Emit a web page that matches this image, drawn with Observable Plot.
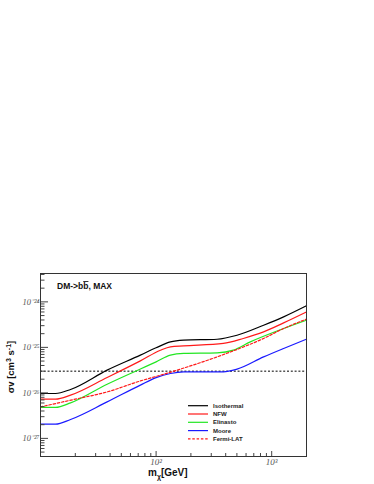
<!DOCTYPE html>
<html><head><meta charset="utf-8">
<script src="https://cdn.jsdelivr.net/npm/d3@7"></script>
<script src="https://cdn.jsdelivr.net/npm/@observablehq/plot@0.6"></script>
<style>html,body{margin:0;padding:0;background:#fff} svg{display:block}</style>
</head><body><div id="chart"></div>
<script>
// Data (mass in GeV, <sigma v> in cm^3 s^-1)
const isoMass   = [10, 13.5, 18.2, 37.7, 73.1, 100, 133, 173, 337, 501, 851, 1268, 2000];
const isoSigma  = [9.7e-27, 9.7e-27, 1.19e-26, 3.16e-26, 6.75e-26, 9.8e-26, 1.32e-25, 1.44e-25, 1.51e-25, 1.85e-25, 3.07e-25, 4.68e-25, 8.2e-25];
const nfwMass   = [10, 13.5, 18.2, 37.7, 73.1, 109, 133, 173, 382, 568, 851, 1268, 2000];
const nfwSigma  = [7.27e-27, 7.27e-27, 8.9e-27, 2.18e-26, 5.05e-26, 8.67e-26, 1.03e-25, 1.08e-25, 1.22e-25, 1.57e-25, 2.19e-25, 3.45e-25, 6.0e-25];
const einMass   = [10, 13.5, 18.2, 37.7, 73.1, 100, 133, 173, 337, 466, 653, 1268, 2000];
const einSigma  = [4.78e-27, 4.78e-27, 6.03e-27, 1.55e-26, 3.35e-26, 4.8e-26, 6.74e-26, 7.35e-26, 7.57e-26, 8.67e-26, 1.32e-25, 2.6e-25, 3.96e-25];
const mooreMass = [10, 13.5, 18.2, 37.7, 73.1, 100, 133, 173, 382, 501, 851, 1268, 2000];
const mooreSigma= [2.05e-27, 2.05e-27, 2.6e-27, 6.34e-27, 1.48e-26, 2.16e-26, 2.67e-26, 2.9e-26, 2.9e-26, 3.32e-26, 6.18e-26, 9.46e-26, 1.51e-25];
const fermiMass = [10, 19.4, 37.7, 73.1, 109, 152, 337, 501, 851, 1268, 2000];
const fermiSigma= [4.92e-27, 7.16e-27, 1.05e-26, 1.83e-26, 2.45e-26, 3.16e-26, 6.18e-26, 9.0e-26, 1.57e-25, 2.6e-25, 4.17e-25];
const thermalRelic = [3e-26];

const seriesNames  = ["Isothermal", "NFW", "Elinasto", "Moore", "Fermi-LAT"];
const seriesColors = ["#000000", "#ff1a1a", "#22e622", "#1a1aff", "#ff1a1a"];
const seriesDash   = [null, null, null, null, "2.5,1.8"];
const seriesMass   = [isoMass, nfwMass, einMass, mooreMass, fermiMass];
const seriesSigma  = [isoSigma, nfwSigma, einSigma, mooreSigma, fermiSigma];

const xMajorTicks = [100, 1000];
const yMajorTicks = [1e-27, 1e-26, 1e-25, 1e-24];
const xDomain = [10, 2000];
const yDomain = [4.0e-28, 4.2e-24];

const sup = {"-":"\u207B","0":"\u2070","1":"\u00B9","2":"\u00B2","3":"\u00B3","4":"\u2074","5":"\u2075","6":"\u2076","7":"\u2077","8":"\u2078","9":"\u2079"};
const fmtPow = d => "10" + String(Math.round(Math.log10(d))).split("").map(c => sup[c]).join("");

function minorTicks(lo, hi, majors) {
  const out = [];
  for (let n = Math.floor(Math.log10(lo)); n <= Math.ceil(Math.log10(hi)); n++)
    for (let k = 1; k <= 9; k++) {
      const v = k * Math.pow(10, n);
      if (v > lo * 1.0001 && v < hi * 0.9999 && !majors.some(m => Math.abs(m / v - 1) < 1e-6)) out.push(v);
    }
  return out;
}
const xMinor = minorTicks(xDomain[0], xDomain[1], xMajorTicks);
const yMinor = minorTicks(yDomain[0], yDomain[1], yMajorTicks);

const lineMarks = seriesNames.map((name, i) =>
  Plot.line(seriesMass[i].map((m, j) => ({m, v: seriesSigma[i][j]})), {
    x: "m", y: "v", stroke: seriesColors[i], strokeWidth: 1.2,
    strokeDasharray: seriesDash[i], curve: "monotone-x"
  }));

const axisColor = "#444";
const plot = Plot.plot({
  width: 374, height: 484,
  marginTop: 273, marginRight: 68, marginBottom: 28, marginLeft: 40,
  style: {fontFamily: "Liberation Sans, Arial, sans-serif", background: "white", overflow: "visible"},
  x: {type: "log", domain: xDomain},
  y: {type: "log", domain: yDomain},
  marks: [
    Plot.ruleY(thermalRelic, {stroke: "black", strokeWidth: 1, strokeDasharray: "2,1.8"}),
    ...lineMarks,
    Plot.axisY(yMinor, {tickSize: -4.5, tickFormat: () => "", label: null, stroke: axisColor}),
    Plot.axisY(yMajorTicks, {tickSize: -8, tickPadding: 9, tickFormat: fmtPow, label: null,
      stroke: axisColor, fill: "#555", fontFamily: "Liberation Serif, serif", fontStyle: "italic", fontSize: 8.5}),
    Plot.axisX(xMinor, {tickSize: -3, tickFormat: () => "", label: null, stroke: axisColor}),
    Plot.axisX(xMajorTicks, {tickSize: -5, tickPadding: 7.5, tickFormat: fmtPow, label: null,
      stroke: axisColor, fill: "#555", fontFamily: "Liberation Serif, serif", fontStyle: "italic", fontSize: 9}),
    Plot.frame({stroke: "#333", strokeWidth: 1})
  ]
});
document.getElementById("chart").appendChild(plot);

const svg = d3.select(plot);
const sans = "Liberation Sans, Arial, sans-serif";
// Title inside the frame
const t = svg.append("text").attr("x", 57).attr("y", 289).attr("text-anchor", "start")
  .attr("font-family", sans).attr("font-weight", "bold").attr("font-size", 8.5).attr("fill", "#111");
t.append("tspan").text("DM->b");
t.append("tspan").attr("text-decoration", "overline").text("b");
t.append("tspan").text(", MAX");

// Y axis title
const yt = svg.append("text").attr("transform", "translate(14,367) rotate(-90)")
  .attr("text-anchor", "middle")
  .attr("font-family", sans).attr("font-weight", "bold").attr("font-size", 9.5).attr("fill", "#111");
yt.append("tspan").text("\u03C3v [cm");
yt.append("tspan").attr("dy", -3.5).attr("font-size", 7).text("3");
yt.append("tspan").attr("dy", 3.5).text(" s");
yt.append("tspan").attr("dy", -3.5).attr("font-size", 7).text("-1");
yt.append("tspan").attr("dy", 3.5).text("]");

// X axis title
const xt = svg.append("text").attr("x", 148).attr("y", 476).attr("text-anchor", "start")
  .attr("font-family", sans).attr("font-weight", "bold").attr("font-size", 10).attr("fill", "#111");
xt.append("tspan").text("m");
xt.append("tspan").attr("dy", 2.5).attr("font-size", 7).text("\u03C7");
xt.append("tspan").attr("dy", -2.5).text("[GeV]");

// Legend
const lg = svg.append("g").attr("font-family", sans).attr("text-anchor", "start")
  .attr("font-weight", "bold").attr("font-size", 6);
seriesNames.forEach((name, i) => {
  const y = 405.7 + 8.3 * i;
  lg.append("line").attr("x1", 188).attr("x2", 208).attr("y1", y).attr("y2", y)
    .attr("stroke", seriesColors[i]).attr("stroke-width", 1.2)
    .attr("stroke-dasharray", seriesDash[i]);
  lg.append("text").attr("x", 213).attr("y", y).attr("dy", "0.35em").attr("fill", "#222").text(name);
});
</script>
</body></html>
